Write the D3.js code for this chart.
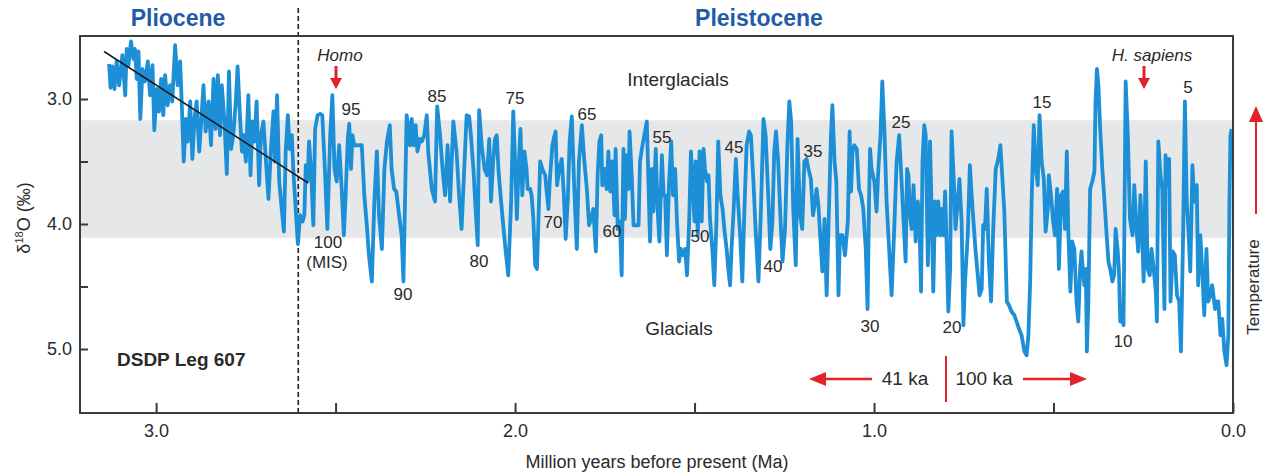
<!DOCTYPE html>
<html>
<head>
<meta charset="utf-8">
<script src="https://cdn.jsdelivr.net/npm/d3@7"></script>
<style>
  body { margin: 0; background: #fff; }
  svg text { font-family: "Liberation Sans", Arial, Helvetica, sans-serif; fill: #2a2a2a; }
</style>
</head>
<body>
<svg id="chart" width="1265" height="476"></svg>
<script>
// age in thousands of years before present (ka), benthic d18O in permil
var ageKa = [
  3131,3127,3122,3116,3110,3103,3094,3086,3082,3077,3070,3063,3059,3054,3049,3044,3038,3031,3023,3017,
  3010,3005,2998,2992,2986,2980,2975,2968,2961,2955,2947,2940,2933,2927,2923,2917,2912,2905,2899,2893,
  2887,2880,2875,2868,2862,2854,2847,2840,2834,2828,2822,2817,2810,2803,2797,2791,2785,2778,2773,2766,
  2761,2756,2750,2743,2737,2732,2726,2720,2713,2708,2701,2695,2687,2680,2673,2669,2663,2657,2650,2644,
  2639,2633,2628,2622,2617,2609,2605,2599,2592,2587,2583,2578,2574,2568,2562,2557,2550,2543,2537,2529,
  2523,2515,2509,2503,2497,2490,2483,2477,2472,2466,2462,2457,2453,2448,2436,2427,2420,2413,2407,2399,
  2392,2385,2379,2371,2364,2357,2349,2344,2337,2331,2323,2316,2311,2307,2302,2297,2293,2288,2283,2277,
  2272,2265,2260,2253,2246,2242,2232,2223,2217,2209,2202,2195,2188,2181,2172,2163,2156,2149,
  2135,2128,2123,2116,2110,2104,2100,2093,2085,2078,2072,2067,2061,2056,2051,2046,2039,2032,2026,2019,
  2011,2005,2000,1995,1991,1985,1980,1974,1968,1965,1958,1954,1949,1944,1939,1935,1930,1924,1916,1912,
  1907,1903,1896,1890,1887,1883,1877,1870,1864,1859,1853,1848,1842,1835,1828,1822,1814,1807,1800,1794,
  1788,1782,1775,1770,1765,1760,1757,1751,1745,1740,1735,1729,1723,1720,1714,1708,1703,1698,1694,1689,
  1684,1681,1675,1670,1666,1661,1656,1652,1645,1640,1633,1629,1624,1619,1615,1608,1603,1598,1591,1586,
  1582,1577,1571,1565,1560,1554,1549,1543,1538,1531,1526,1521,1515,1510,1504,1500,1497,1491,1486,1480,
  1475,1471,1465,1461,1457,1450,1445,1439,1434,1428,1422,1417,1410,1406,1401,1397,1391,1385,1380,1373,
  1367,1361,1355,1348,1343,1336,1330,1322,1315,1308,1302,1294,1289,1283,1278,1273,1267,1261,1255,1248,
  1241,1236,1231,1225,1218,1213,1206,1200,1194,1188,1181,1176,1170,1164,1160,1155,1150,1144,1138,1132,
  1125,1120,1116,1110,1105,1099,1095,1088,
  1081,1073,1068,1064,1060,1055,1048,1042,1036,1030,1023,1018,1014,1011,1007,999,993,988,982,977,
  971,965,958,951,943,937,930,925,918,912,908,904,900,895,890,884,878,873,869,865,
  860,856,850,844,839,835,830,826,821,816,812,807,802,798,793,788,784,778,773,767,
  762,756,751,747,739,733,728,723,717,711,706,700,696,691,686,680,674,668,661,654,
  648,643,637,630,624,617,609,603,596,589,581,575,570,565,561,555,550,544,539,533,
  527,522,516,513,507,501,496,490,485,479,473,468,463,459,453,448,442,436,431,426,
  422,418,414,410,407,403,398,392,386,383,379,375,370,364,358,352,347,342,336,331,
  327,321,318,314,310,305,299,293,287,280,275,269,264,258,253,249,243,238,232,227,
  221,215,212,208,202,197,191,188,183,178,174,168,162,156,150,145,139,134,129,124,
  119,113,108,101,97,91,85,80,74,69,63,58,50,45,41,35,30,24,18,13,
  10,7,4
];
var d18O = [
  2.72,2.91,2.74,2.92,2.70,2.89,2.65,2.97,2.60,2.73,2.54,2.68,2.60,2.84,2.62,3.16,2.76,2.86,2.70,2.97,
  2.73,3.25,2.92,3.10,2.84,3.13,2.81,3.05,2.89,3.02,2.57,2.89,2.70,3.16,3.50,3.16,3.34,3.02,3.48,3.16,
  3.02,3.42,3.21,2.89,3.26,3.02,3.37,2.84,3.24,2.81,3.29,2.89,3.16,3.60,2.78,3.40,3.29,3.02,2.74,3.16,
  3.42,3.29,3.50,2.97,3.61,3.18,3.34,3.02,3.69,3.29,3.18,3.45,3.80,3.40,3.10,3.50,2.97,3.66,3.88,4.06,
  3.42,3.13,3.40,3.29,3.61,3.98,4.16,3.93,3.98,3.93,3.53,3.66,3.34,3.58,4.01,3.24,3.13,3.12,3.13,3.61,
  4.04,3.29,2.97,3.56,3.66,3.37,3.72,4.09,3.77,3.32,3.20,3.56,3.29,3.37,3.37,3.37,3.77,4.01,4.25,4.46,
  3.82,3.42,3.93,4.20,3.56,3.34,3.21,3.56,3.72,3.74,3.93,4.09,4.46,3.88,3.13,3.24,3.37,3.16,3.37,3.21,
  3.42,3.32,3.34,3.29,3.13,3.42,3.72,3.82,3.06,3.29,3.56,3.77,3.37,3.82,3.18,3.42,3.77,4.04,
  3.13,3.14,3.29,3.56,3.88,4.17,3.09,3.37,3.56,3.61,3.32,3.82,3.50,3.32,3.29,3.58,3.82,4.04,4.22,4.41,
  3.82,3.10,3.50,3.96,3.61,3.24,3.77,3.42,3.56,3.72,3.72,3.77,3.96,4.33,4.36,3.98,3.50,3.56,3.61,3.74,
  3.88,3.64,3.37,3.29,3.26,3.69,3.56,3.48,3.77,4.12,3.80,3.34,3.14,3.72,4.20,3.50,3.21,3.50,3.72,4.01,
  3.96,3.88,4.22,3.61,3.34,3.29,3.69,3.56,3.72,3.42,3.74,3.50,3.93,3.40,4.04,3.98,4.41,3.40,3.96,3.45,
  3.72,3.26,3.61,4.01,4.01,4.01,4.01,3.50,3.37,3.29,3.18,3.61,4.14,3.56,3.90,3.40,3.88,4.14,3.45,3.77,
  3.77,4.25,3.66,3.34,3.77,3.56,3.98,4.30,4.20,4.25,4.20,4.41,3.98,3.42,3.77,3.98,3.50,4.09,3.42,3.98,
  3.40,3.56,3.66,3.61,3.96,4.22,4.49,3.98,3.34,3.77,3.88,4.04,4.22,4.36,4.49,4.20,3.88,3.48,3.77,4.09,
  4.46,3.88,3.37,3.26,3.29,3.66,4.04,4.46,3.88,3.16,3.29,3.82,4.20,3.98,3.42,3.26,3.50,3.93,4.30,4.04,
  3.34,3.02,3.18,3.88,4.33,3.32,3.93,4.04,3.50,3.48,3.58,3.64,3.93,3.82,3.72,3.85,4.09,4.38,3.96,4.57,
  3.82,3.29,3.05,3.50,3.66,4.57,4.09,4.09,
  4.25,3.98,3.26,3.74,3.42,3.37,3.40,3.72,3.77,3.88,4.20,4.68,3.82,3.40,3.56,3.66,3.90,3.56,3.29,2.86,
  3.26,3.82,4.20,4.57,3.98,3.50,3.29,3.56,3.96,4.30,3.56,3.61,3.93,4.04,3.69,4.14,3.82,4.04,4.54,3.50,
  3.21,3.29,4.33,3.34,3.96,4.54,3.82,4.09,3.82,4.09,3.88,4.09,3.74,4.14,4.70,4.36,3.26,3.64,4.04,3.82,
  3.64,3.98,4.81,4.49,4.09,3.53,3.77,3.98,4.22,4.41,4.57,4.52,4.01,4.04,3.72,4.30,4.62,4.04,3.56,3.48,
  3.37,3.61,3.90,4.62,4.65,4.70,4.73,4.78,4.84,4.89,5.02,5.05,4.89,4.46,3.82,3.21,3.53,3.69,3.13,3.50,
  3.64,4.06,3.88,3.61,3.77,3.98,4.09,3.72,4.36,3.77,3.74,4.04,3.42,4.04,4.54,4.14,4.20,4.62,4.78,4.36,
  4.22,4.38,4.49,4.36,5.02,4.62,3.72,3.66,3.58,3.02,2.76,2.89,3.24,3.56,3.82,4.09,4.30,4.36,4.46,4.41,
  4.04,4.22,4.36,4.78,4.73,4.81,2.86,3.29,3.96,4.09,3.69,4.04,4.22,3.77,4.09,4.46,3.50,4.36,4.41,4.20,
  4.36,4.54,4.78,3.34,3.61,3.72,4.68,3.45,3.69,3.48,4.62,4.22,4.25,4.57,4.62,5.02,4.09,3.02,3.82,4.06,
  4.38,3.53,3.82,3.69,4.49,4.09,4.41,4.73,4.20,4.62,4.57,4.49,4.68,4.62,4.62,4.89,4.76,5.02,5.13,4.89,
  3.82,3.29,3.24
];

// linear Pliocene trend drawn over the record
var trendAge = [3.145, 2.577];
var trendD18O = [2.62, 3.67];

var interglacialBand = [3.17, 4.11];
var epochBoundary = 2.604;

var xTicks = [3.0, 2.5, 2.0, 1.5, 1.0, 0.5, 0.0];
var yTicks = [3.0, 3.5, 4.0, 4.5, 5.0];

// marine isotope stage labels: [label, x px, baseline px]
var misLabels = [
  ['95', 351, 115], ['85', 437, 102], ['75', 515, 104], ['65', 587, 120], ['55', 662, 143],
  ['45', 734, 153], ['35', 813, 157], ['25', 901, 128], ['15', 1042, 108], ['5', 1188, 93],
  ['100', 328, 248], ['(MIS)', 327, 268], ['90', 403, 300], ['80', 479, 267], ['70', 553, 228],
  ['60', 612, 237], ['50', 700, 242], ['40', 773, 272], ['30', 870, 332], ['20', 952, 333],
  ['10', 1123, 347]
];

var RED = '#e3232b';
var BLUE_LINE = '#1c8fd6';
var BLUE_TITLE = '#1f5ba9';
var AXIS = '#3a3a3a';

var svg = d3.select('#chart');

var xScale = d3.scaleLinear().domain([3.212, 0]).range([80, 1233]);
var yScale = d3.scaleLinear().domain([2.496, 5.512]).range([36, 413]);

// grey band of the interglacial range
svg.append('rect')
    .attr('x', xScale.range()[0])
    .attr('width', xScale.range()[1] - xScale.range()[0])
    .attr('y', yScale(interglacialBand[0]))
    .attr('height', yScale(interglacialBand[1]) - yScale(interglacialBand[0]))
    .attr('fill', '#e6e7e8');

// Pliocene / Pleistocene boundary
svg.append('line')
    .attr('x1', xScale(epochBoundary)).attr('x2', xScale(epochBoundary))
    .attr('y1', 8).attr('y2', 413)
    .attr('stroke', '#222').attr('stroke-width', 1.6)
    .attr('stroke-dasharray', '5,3');

var record = ageKa.map(function(a, i) { return { age: a / 1000, v: d18O[i] }; });

var line = d3.line()
    .x(function(d) { return xScale(d.age); })
    .y(function(d) { return yScale(d.v); });

svg.append('path')
    .datum(record)
    .attr('d', line)
    .attr('fill', 'none')
    .attr('stroke', BLUE_LINE)
    .attr('stroke-width', 3.8)
    .attr('stroke-linejoin', 'round');

svg.append('path')
    .datum(trendAge.map(function(a, i) { return { age: a, v: trendD18O[i] }; }))
    .attr('d', line)
    .attr('fill', 'none')
    .attr('stroke', '#1a1a1a')
    .attr('stroke-width', 1.5);

// axes, ticks point inward
var xAxis = d3.axisBottom(xScale)
    .tickValues(xTicks)
    .tickSize(-10)
    .tickPadding(11)
    .tickFormat(function(d) { return d % 1 === 0 ? d.toFixed(1) : ''; });

var yAxis = d3.axisLeft(yScale)
    .tickValues(yTicks)
    .tickSize(-8)
    .tickPadding(8)
    .tickFormat(function(d) { return d % 1 === 0 ? d.toFixed(1) : ''; });

var gx = svg.append('g').attr('transform', 'translate(0,413)').call(xAxis);
var gy = svg.append('g').attr('transform', 'translate(80,0)').call(yAxis);

[gx, gy].forEach(function(g) {
    g.select('.domain').remove();
    g.selectAll('.tick line').attr('stroke', AXIS).attr('stroke-width', 2);
    g.selectAll('.tick text').attr('font-size', 18).attr('fill', '#333')
        .style('font-family', '"Liberation Sans", Arial, sans-serif');
});

// frame
svg.append('rect')
    .attr('x', 80).attr('y', 36)
    .attr('width', 1153).attr('height', 377)
    .attr('fill', 'none')
    .attr('stroke', AXIS).attr('stroke-width', 2);

// axis titles
svg.append('text')
    .attr('x', 657).attr('y', 468)
    .attr('text-anchor', 'middle')
    .attr('font-size', 18)
    .text('Million years before present (Ma)');

var yl = svg.append('text')
    .attr('transform', 'translate(30,218) rotate(-90)')
    .attr('text-anchor', 'middle')
    .attr('font-size', 18)
    .attr('fill', '#333');
yl.append('tspan').text('δ');
yl.append('tspan').attr('font-size', 11).attr('dy', -7).text('18');
yl.append('tspan').attr('dy', 7).text('O (‰)');

// epoch titles
svg.append('text').attr('x', 178).attr('y', 26)
    .attr('text-anchor', 'middle').attr('font-size', 23).attr('font-weight', 'bold')
    .style('fill', BLUE_TITLE).text('Pliocene');
svg.append('text').attr('x', 759).attr('y', 26)
    .attr('text-anchor', 'middle').attr('font-size', 23).attr('font-weight', 'bold')
    .style('fill', BLUE_TITLE).text('Pleistocene');

// MIS numbers
svg.selectAll('.mis').data(misLabels)
    .enter()
    .append('text')
    .attr('class', 'mis')
    .attr('x', function(d) { return d[1]; })
    .attr('y', function(d) { return d[2]; })
    .attr('text-anchor', 'middle')
    .attr('font-size', 17)
    .text(function(d) { return d[0]; });

svg.append('text').attr('x', 678).attr('y', 86)
    .attr('text-anchor', 'middle').attr('font-size', 19).text('Interglacials');
svg.append('text').attr('x', 679).attr('y', 335)
    .attr('text-anchor', 'middle').attr('font-size', 19).text('Glacials');

svg.append('text').attr('x', 117).attr('y', 366)
    .attr('font-size', 19).attr('font-weight', 'bold').text('DSDP Leg 607');

svg.append('text').attr('x', 340).attr('y', 61)
    .attr('text-anchor', 'middle').attr('font-size', 17).attr('font-style', 'italic').text('Homo');
svg.append('text').attr('x', 1152).attr('y', 61)
    .attr('text-anchor', 'middle').attr('font-size', 17).attr('font-style', 'italic').text('H. sapiens');

// red arrows: shaft from (x1,y1) to the tip (x2,y2)
function arrow(x1, y1, x2, y2, head, halfW, sw) {
    var ang = Math.atan2(y2 - y1, x2 - x1);
    var bx = x2 - head * Math.cos(ang), by = y2 - head * Math.sin(ang);
    svg.append('line')
        .attr('x1', x1).attr('y1', y1).attr('x2', bx).attr('y2', by)
        .attr('stroke', RED).attr('stroke-width', sw);
    var px = -Math.sin(ang) * halfW, py = Math.cos(ang) * halfW;
    svg.append('polygon')
        .attr('points', [[x2, y2], [bx + px, by + py], [bx - px, by - py]].map(function(p) { return p.join(','); }).join(' '))
        .attr('fill', RED);
}

arrow(336, 66, 336, 89, 11, 6, 3);
arrow(1144, 66, 1144, 89, 11, 6, 3);
arrow(872, 379, 809, 379, 17, 7, 2.5);
arrow(1023, 379, 1087, 379, 17, 7, 2.5);
arrow(1256, 214, 1256, 106, 16, 7, 2);

svg.append('line')
    .attr('x1', 946).attr('x2', 946).attr('y1', 356).attr('y2', 402)
    .attr('stroke', RED).attr('stroke-width', 2);

svg.append('text').attr('x', 905).attr('y', 385)
    .attr('text-anchor', 'middle').attr('font-size', 19).text('41 ka');
svg.append('text').attr('x', 984).attr('y', 385)
    .attr('text-anchor', 'middle').attr('font-size', 19).text('100 ka');

svg.append('text')
    .attr('transform', 'translate(1259,287) rotate(-90)')
    .attr('text-anchor', 'middle').attr('font-size', 17).text('Temperature');
</script>
</body>
</html>
